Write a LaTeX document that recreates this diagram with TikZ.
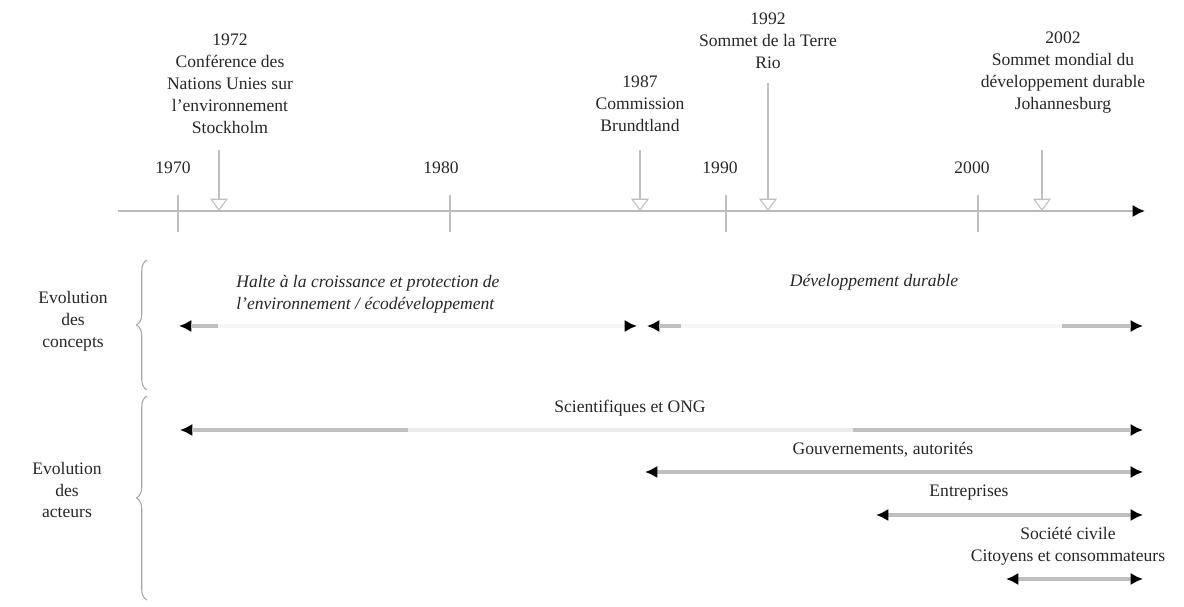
\documentclass[tikz,border=0pt]{standalone}
\usepackage{fontspec}
\setmainfont{Liberation Serif}
\usepackage{tikz}
\usetikzlibrary{arrows.meta,decorations.pathreplacing,positioning}

\tikzset{
  texte/.style={align=center,inner sep=0pt,text=black!85,font=\fontsize{10}{12.5}\selectfont},
  concept/.style={texte,font=\fontsize{10}{12.5}\selectfont\itshape},
  axe/.style={gray!55,line width=1.7pt,-{Latex[black,length=7pt,width=7pt]}},
  graduation/.style={gray!50,line width=1.4pt},
  evenement/.style={gray!50,line width=1.5pt,-{Triangle[open,length=7pt,width=10pt,line width=0.6pt]}},
  acteur/.style={gray!50,line width=1.8pt,{Latex[black,length=7pt,width=7pt]}-{Latex[black,length=7pt,width=7pt]}},
  fondu/.style={gray!8,line width=1.8pt,{Latex[black,length=7pt,width=7pt]}-{Latex[black,length=7pt,width=7pt]}},
  bout/.style={gray!50,line width=1.8pt},
  accolade/.style={gray!70,line width=0.6pt,decorate,decoration={brace,amplitude=6pt}}
}

\begin{document}
\begin{tikzpicture}[x=0.02cm,y=-0.02cm]
\useasboundingbox (0,0) rectangle (1184,607);

% axe du temps
\coordinate (debut) at (118,211);
\coordinate (fin) at (1145,211);
\draw[axe] (debut) -- (fin);

% decennies
\foreach \an/\x/\lx in {1970/178/173,1980/450/441,1990/726/720,2000/978/972}{
  \coordinate (haut\an) at (\x,195);
  \coordinate (bas\an) at (\x,232);
  \draw[graduation] (haut\an) -- (bas\an);
  \node[texte] (y\an) at (\lx,168) {\an};
}

% evenements
\node[texte] (e1972) at (230,84) {1972\\Conférence des\\Nations Unies sur\\l'environnement\\Stockholm};
\node[texte] (e1987) at (640,104) {1987\\Commission\\Brundtland};
\node[texte] (e1992) at (768,41) {1992\\Sommet de la Terre\\Rio};
\node[texte] (e2002) at (1063,73) {2002\\Sommet mondial du\\développement durable\\Johannesburg};
\foreach \an/\x/\y in {1972/219/150,1987/640/150,1992/768/83,2002/1042/150}{
  \coordinate (de\an) at (\x,\y);
  \coordinate (a\an) at (\x,211);
  \draw[evenement] (de\an) -- (a\an);
}

% evolution des concepts
\node[texte] (concepts) at (73,321) {Evolution\\des\\concepts};
\coordinate (acc1b) at (147,390);
\coordinate (acc1h) at (147,260);
\draw[accolade] (acc1b) -- (acc1h);

\node[concept,anchor=west,align=left] (halte) at (236,294) {Halte à la croissance et protection de\\l'environnement / écodéveloppement};
\node[concept] (durable) at (874,282) {Développement durable};

\coordinate (c1g) at (179,326);
\coordinate (c1d) at (637,326);
\draw[fondu] (c1g) -- (c1d);
\coordinate (c1s) at (191,326);
\coordinate (c1t) at (218,326);
\draw[bout] (c1s) -- (c1t);

\coordinate (c2g) at (647,326);
\coordinate (c2d) at (1143,326);
\draw[fondu] (c2g) -- (c2d);
\coordinate (c2s) at (659,326);
\coordinate (c2t) at (681,326);
\draw[bout] (c2s) -- (c2t);
\coordinate (c2u) at (1062,326);
\coordinate (c2v) at (1131,326);
\draw[bout] (c2u) -- (c2v);

% evolution des acteurs
\node[texte] (acteurs) at (67,490) {Evolution\\des\\acteurs};
\coordinate (acc2b) at (147,600);
\coordinate (acc2h) at (147,396);
\draw[accolade] (acc2b) -- (acc2h);

\node[texte] (sci) at (630,408) {Scientifiques et ONG};
\coordinate (s1) at (180,430);
\coordinate (s2) at (1143,430);
\draw[fondu,gray!15] (s1) -- (s2);
\coordinate (s3) at (192,430);
\coordinate (s4) at (408,430);
\draw[bout] (s3) -- (s4);
\coordinate (s5) at (853,430);
\coordinate (s6) at (1131,430);
\draw[bout] (s5) -- (s6);

\node[texte] (gouv) at (883,450) {Gouvernements, autorités};
\coordinate (g1) at (645,472);
\coordinate (g2) at (1143,472);
\draw[acteur] (g1) -- (g2);

\node[texte] (entr) at (969,493) {Entreprises};
\coordinate (n1) at (876,515);
\coordinate (n2) at (1143,515);
\draw[acteur] (n1) -- (n2);

\node[texte] (soc) at (1068,546) {Société civile\\Citoyens et consommateurs};
\coordinate (o1) at (1006,579);
\coordinate (o2) at (1143,579);
\draw[acteur] (o1) -- (o2);
\end{tikzpicture}
\end{document}
